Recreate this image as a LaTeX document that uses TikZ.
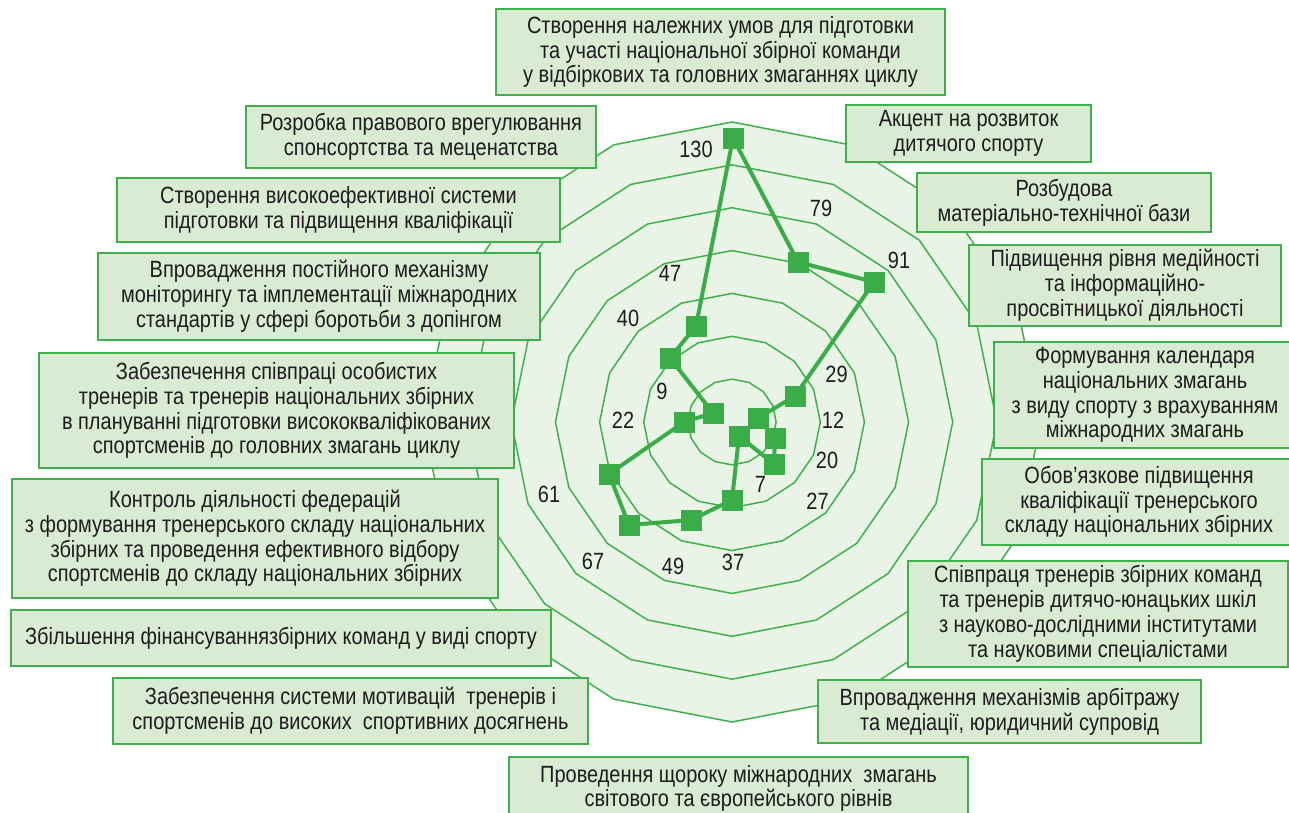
\documentclass[tikz,border=0pt]{standalone}
\usepackage{fontspec}
\setmainfont{Liberation Sans}[FakeStretch=0.85]
\definecolor{gline}{RGB}{62,178,74}
\definecolor{gdata}{RGB}{58,172,72}
\definecolor{gbox}{RGB}{217,236,211}
\definecolor{gchart}{RGB}{234,244,230}
\definecolor{txt}{RGB}{30,28,28}
\begin{document}
\begin{tikzpicture}[x=1pt,y=-1pt,
  ring/.style={draw=gline, line width=1.5pt, line join=miter},
  infobox/.style={draw=gline, fill=gbox, line width=2pt, inner sep=0pt, align=center, text=txt, font=\fontsize{23.5}{24.8}\selectfont},
  sq/.style={fill=gdata, minimum size=21pt, inner sep=0pt},
  dline/.style={draw=gdata, line width=4pt, line join=round},
  num/.style={text=txt, font=\fontsize{23.5}{24.8}\selectfont, inner sep=0pt}]
\useasboundingbox (0,0) rectangle (1289,812);
\clip (0,0) rectangle (1289,812);
\fill[white] (0,0) rectangle (1289,812);

% chart background
\fill[gchart] (732,122) \foreach \i in {1,...,15}{ -- ({732+1.03*300*cos(90+22.5*\i)},{422-300*sin(90+22.5*\i)}) } -- cycle;

% rings
\foreach \k in {1,...,7}{
  \pgfmathsetmacro\R{\k*300/7}
  \draw[ring] (732,{422-\R}) \foreach \i in {1,...,15}{ -- ({732+1.03*\R*cos(90+22.5*\i)},{422-\R*sin(90+22.5*\i)}) } -- cycle;
}

% data points
\foreach \n/\px/\py in {0/733/138, 1/798/262, 2/874/282, 3/795/396, 4/758/418, 5/775/438, 6/774/464, 7/739/436,
  8/732/500, 9/691/520, 10/629/525, 11/609/474, 12/684/422, 13/713/413, 14/670/358, 15/696/326}
  \node[sq] (p\n) at (\px,\py) {};
\draw[dline] (p0.center) -- (p1.center) -- (p2.center) -- (p3.center) -- (p4.center) -- (p5.center) -- (p6.center) -- (p7.center) -- (p8.center) -- (p9.center) -- (p10.center) -- (p11.center) -- (p12.center) -- (p13.center) -- (p14.center) -- (p15.center) -- cycle;

% value labels
\node[num] (n0) at (696,149) {130};
\node[num] (n1) at (821,208) {79};
\node[num] (n2) at (899,260) {91};
\node[num] (n3) at (836.5,374) {29};
\node[num] (n4) at (833,420) {12};
\node[num] (n5) at (827,460.5) {20};
\node[num] (n6) at (817.5,501.7) {27};
\node[num] (n7) at (760.5,484) {7};
\node[num] (n8) at (733,562) {37};
\node[num] (n9) at (673,566) {49};
\node[num] (n10) at (593,561) {67};
\node[num] (n11) at (549,494) {61};
\node[num] (n12) at (623,420) {22};
\node[num] (n13) at (662,391) {9};
\node[num] (n14) at (628,318.7) {40};
\node[num] (n15) at (670,273.7) {47};

% boxes
\node[infobox, minimum width=449pt, minimum height=86pt] (b0) at (720.5,52) {Створення належних умов для підготовки\\та участі національної збірної команди\\у відбіркових та головних змаганнях циклу};
\node[infobox, minimum width=245pt, minimum height=57pt] (b1) at (968.5,133.5) {Акцент на розвиток\\дитячого спорту};
\node[infobox, minimum width=294pt, minimum height=59pt] (b2) at (1064,202.5) {Розбудова\\матеріально-технічної бази};
\node[infobox, minimum width=312pt, minimum height=81pt] (b3) at (1125,285.5) {Підвищення рівня медійності\\та інформаційно-\\просвітницької діяльності};
\node[infobox, minimum width=302pt, minimum height=106pt] (b4) at (1145,395) {Формування календаря\\національних змагань\\з виду спорту з врахуванням\\міжнародних змагань};
\node[infobox, minimum width=314pt, minimum height=86pt] (b5) at (1139,502) {Обов’язкове підвищення\\кваліфікації тренерського\\складу національних збірних};
\node[infobox, minimum width=380pt, minimum height=106pt] (b6) at (1098,614) {Співпраця тренерів збірних команд\\та тренерів дитячо-юнацьких шкіл\\з науково-дослідними інститутами\\та науковими спеціалістами};
\node[infobox, minimum width=383pt, minimum height=63pt] (b7) at (1009.5,711.5) {Впровадження механізмів арбітражу\\та медіації, юридичний супровід};
\node[infobox, minimum width=459pt, minimum height=63pt] (b8) at (738.5,788.5) {Проведення щороку міжнародних\ \ змагань\\світового та європейського рівнів};
\node[infobox, minimum width=475pt, minimum height=66pt] (b9) at (350.5,711) {Забезпечення системи мотивацій\ \ тренерів і\\спортсменів до високих\ \ спортивних досягнень};
\node[infobox, minimum width=540pt, minimum height=56pt] (b10) at (281,638) {Збільшення фінансуваннязбірних команд у виді спорту};
\node[infobox, minimum width=486pt, minimum height=119pt] (b11) at (255,538.5) {Контроль діяльності федерацій\\з формування тренерського складу національних\\збірних та проведення ефективного відбору\\спортсменів до складу національних збірних};
\node[infobox, minimum width=475pt, minimum height=115pt] (b12) at (276.5,410.5) {Забезпечення співпраці особистих\\тренерів та тренерів національних збірних\\в плануванні підготовки висококваліфікованих\\спортсменів до головних змагань циклу};
\node[infobox, minimum width=442pt, minimum height=87pt] (b13) at (319,296.5) {Впровадження постійного механізму\\моніторингу та імплементації міжнародних\\стандартів у сфері боротьби з допінгом};
\node[infobox, minimum width=443pt, minimum height=64pt] (b14) at (338.5,210) {Створення високоефективної системи\\підготовки та підвищення кваліфікації};
\node[infobox, minimum width=350pt, minimum height=62pt] (b15) at (421,137) {Розробка правового врегулювання\\спонсортства та меценатства};
\end{tikzpicture}
\end{document}
